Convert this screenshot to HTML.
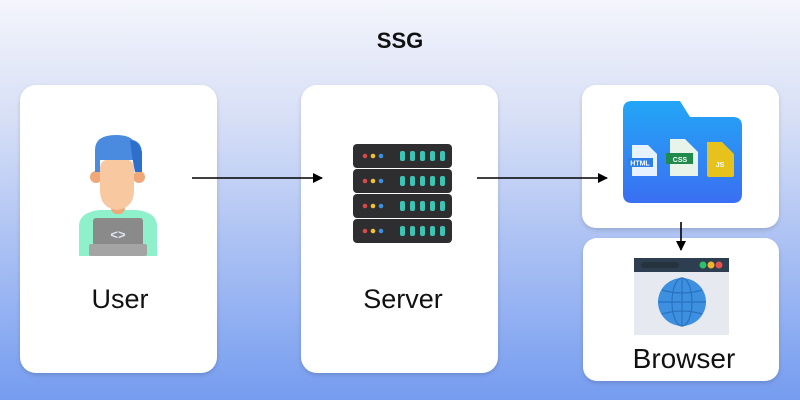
<!DOCTYPE html>
<html><head><style>
body{margin:0;width:800px;height:400px;overflow:hidden;font-family:"Liberation Sans","DejaVu Sans",sans-serif}
</style></head><body>
<svg width="800" height="400" xmlns="http://www.w3.org/2000/svg">
<defs>
<linearGradient id="bg" x1="0" y1="0" x2="0" y2="1">
<stop offset="0" stop-color="#f4f5fc"/><stop offset="0.3" stop-color="#d7dff6"/><stop offset="1" stop-color="#759cf0"/></linearGradient>
<linearGradient id="fd" x1="0" y1="0" x2="0" y2="1"><stop offset="0" stop-color="#23a6f6"/><stop offset="1" stop-color="#3a6ff2"/></linearGradient>
<filter id="sh" x="-10%" y="-10%" width="120%" height="120%"><feDropShadow dx="0" dy="2" stdDeviation="2" flood-color="#000" flood-opacity="0.15"/></filter>
<marker id="ar" markerWidth="10" markerHeight="10" refX="9" refY="5" orient="auto" markerUnits="userSpaceOnUse"><path d="M0,0 L10,5 L0,10 z" fill="#000"/></marker>
</defs>
<rect width="800" height="400" fill="url(#bg)"/>
<text x="400" y="48" text-anchor="middle" font-size="22" font-weight="bold" fill="#111">SSG</text>
<g filter="url(#sh)" fill="#fff">
<rect x="20" y="85" width="197" height="288" rx="16"/>
<rect x="301" y="85" width="197" height="288" rx="16"/>
<rect x="582" y="85" width="197" height="143" rx="14"/>
<rect x="583" y="238" width="196" height="143" rx="14"/>
</g>
<!-- user icon -->
<path d="M79,256 L79,225 Q80,212 100,210 L136,210 Q156,212 157,225 L157,256 Z" fill="#8ff0cc"/>
<rect x="111" y="198" width="14" height="16" rx="6" fill="#f0a878"/>
<ellipse cx="96" cy="177" rx="6" ry="6" fill="#f0a878"/>
<ellipse cx="139" cy="177" rx="6" ry="6" fill="#f0a878"/>
<path d="M100,168 Q100,158 117,158 Q134,158 134,168 L134,190 Q134,208 117,210 Q100,208 100,190 Z" fill="#f8c8a0"/>
<path d="M95,172 L95,150 Q95,135 116,135 Q128,135 133,140 Q142,142 142,155 L142,172 L135,172 L133,160 L100,160 L100,172 Z" fill="#4a8be0"/>
<path d="M130,140 Q142,142 142,155 L142,172 L135,172 L132,156 Z" fill="#2e6fcc"/>
<rect x="93" y="218" width="50" height="30" rx="3" fill="#8a8a8a"/>
<rect x="89" y="244" width="58" height="12" rx="2" fill="#a4a4a4"/>
<text x="118" y="239" text-anchor="middle" font-size="13" font-weight="bold" fill="#dfe6f3">&lt;&gt;</text>
<text x="120" y="308" text-anchor="middle" font-size="27" fill="#111">User</text>
<!-- server icon -->
<g>
<rect x="353" y="144" width="99" height="24" rx="4" fill="#2e2e30"/>
<rect x="353" y="169" width="99" height="24" rx="4" fill="#2e2e30"/>
<rect x="353" y="194" width="99" height="24" rx="4" fill="#2e2e30"/>
<rect x="353" y="219" width="99" height="24" rx="4" fill="#2e2e30"/>
<g id="row">
<circle cx="365" cy="156" r="2.3" fill="#d94848"/><circle cx="373" cy="156" r="2.3" fill="#f2c22e"/><circle cx="381" cy="156" r="2.3" fill="#3a8fe0"/>
<rect x="400" y="151" width="5" height="10" rx="2" fill="#3cc4b4"/><rect x="410" y="151" width="5" height="10" rx="2" fill="#3cc4b4"/><rect x="420" y="151" width="5" height="10" rx="2" fill="#3cc4b4"/><rect x="430" y="151" width="5" height="10" rx="2" fill="#3cc4b4"/><rect x="440" y="151" width="5" height="10" rx="2" fill="#3cc4b4"/>
</g>
<use href="#row" y="25"/><use href="#row" y="50"/><use href="#row" y="75"/>
</g>
<text x="403" y="308" text-anchor="middle" font-size="27" fill="#111">Server</text>
<!-- arrows -->
<line x1="192" y1="178" x2="322" y2="178" stroke="#000" stroke-width="1.6" marker-end="url(#ar)"/>
<line x1="477" y1="178" x2="607" y2="178" stroke="#000" stroke-width="1.6" marker-end="url(#ar)"/>
<line x1="681" y1="222" x2="681" y2="250" stroke="#000" stroke-width="1.6" marker-end="url(#ar)"/>
<!-- folder -->
<path d="M623,110 Q623,101 632,101 L680,101 L690,117 L733,117 Q742,117 742,126 L742,194 Q742,203 733,203 L632,203 Q623,203 623,194 Z" fill="url(#fd)"/>
<path d="M632,145 L648,145 L657,154 L657,176 L632,176 Z" fill="#e6f2ff"/>
<rect x="628" y="158" width="25" height="9" fill="#2d7fe8"/>
<text x="640" y="165.5" text-anchor="middle" font-size="7" font-weight="bold" fill="#fff">HTML</text>
<path d="M670,139 L685,139 L698,152 L698,176 L670,176 Z" fill="#e8f3ea"/>
<rect x="666" y="153" width="27" height="11" fill="#1f8a4c"/>
<text x="680" y="162" text-anchor="middle" font-size="7" font-weight="bold" fill="#fff">CSS</text>
<path d="M707,142 L722,142 L734,154 L734,175 Q734,177 732,177 L709,177 Q707,177 707,175 Z" fill="#e8c21c"/>
<text x="720" y="167" text-anchor="middle" font-size="7" font-weight="bold" fill="#fff">JS</text>
<!-- browser -->
<rect x="634" y="258" width="95" height="77" fill="#e6eaf0"/>
<rect x="634" y="258" width="95" height="14" fill="#2d3e50"/>
<rect x="641" y="262" width="38" height="6" rx="3" fill="#26333f"/>
<circle cx="703" cy="265" r="3.5" fill="#2fc06a"/><circle cx="711" cy="265" r="3.5" fill="#f2b22e"/><circle cx="719" cy="265" r="3.5" fill="#e85050"/>
<circle cx="682" cy="302" r="24" fill="#3d8fe0"/>
<g fill="none" stroke="#2a72c0" stroke-width="1.2">
<ellipse cx="682" cy="302" rx="10" ry="24"/>
<line x1="682" y1="278" x2="682" y2="326"/><line x1="658" y1="302" x2="706" y2="302"/>
<path d="M662,290 Q682,296 702,290"/><path d="M662,314 Q682,308 702,314"/>
</g>
<text x="684" y="368" text-anchor="middle" font-size="28" fill="#111">Browser</text>
</svg>
</body></html>
